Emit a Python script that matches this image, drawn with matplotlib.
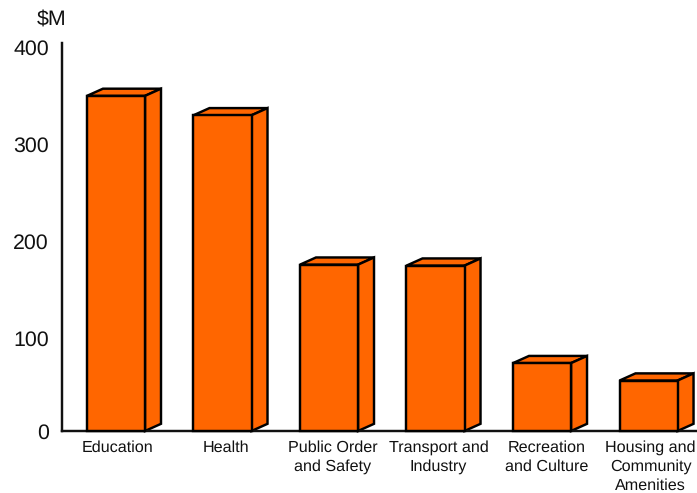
import matplotlib
matplotlib.use('Agg')
import matplotlib.pyplot as plt
from matplotlib.patches import Polygon
from matplotlib.transforms import ScaledTranslation

plt.rcParams['font.family'] = ['Liberation Sans', 'DejaVu Sans']
plt.rcParams['text.hinting'] = 'none'

categories = ['Education', 'Health', 'Public Order\nand Safety', 'Transport and\nIndustry',
              'Recreation\nand Culture', 'Housing and\nCommunity\nAmenities']
values = [345.5, 325.5, 171.5, 170.5, 70, 52]
y_ticks = [0, 100, 200, 300, 400]

orange = '#ff6600'
edge = '#000000'
bar_width = 0.545
depth_x = 0.15
depth_y = 7.4
line = 1.75
text_col = '#111111'

# sideways nudge of each category label, in pixels
label_nudge = [2, 3, 4, 3, 5, 2]

fig = plt.figure(figsize=(6.97, 4.93), dpi=100)
ax = fig.add_axes([62 / 697, 1 - 431 / 493, (697 - 62) / 697, (431 - 43) / 493])
ax.set_xlim(-0.507, 5.455)
ax.set_ylim(0, 400)

# front faces
ax.bar(range(len(values)), values, width=bar_width, color=orange, edgecolor=edge,
       linewidth=line, zorder=3, clip_on=False)

# top and side faces of each box
for i, v in enumerate(values):
    l = i - bar_width / 2
    r = i + bar_width / 2
    top = [(l, v), (r, v), (r + depth_x, v + depth_y), (l + depth_x, v + depth_y)]
    side = [(r, 0), (r + depth_x, depth_y), (r + depth_x, v + depth_y), (r, v)]
    for pts in (top, side):
        ax.add_patch(Polygon(pts, closed=True, facecolor=orange, edgecolor=edge,
                             linewidth=line, joinstyle='miter', zorder=2, clip_on=False))

for s in ('top', 'right'):
    ax.spines[s].set_visible(False)
for s in ('left', 'bottom'):
    ax.spines[s].set_linewidth(line)
    ax.spines[s].set_color('#111111')

ax.set_yticks([])
ax.set_xticks(range(len(categories)))
ax.set_xticklabels(categories, fontsize=11.6, linespacing=1.35, color=text_col)
ax.tick_params(axis='x', length=0, pad=6.5)
for lab, dx in zip(ax.get_xticklabels(), label_nudge):
    lab.set_transform(lab.get_transform() + ScaledTranslation(dx / 100, 0, fig.dpi_scale_trans))

# value labels sit a little below their gridline position
for t in y_ticks:
    off = -2 if t == 0 else -6.5
    ax.annotate(str(t), xy=(0, t), xycoords=('axes fraction', 'data'),
                xytext=(-9.3, off * 0.72), textcoords='offset points',
                ha='right', va='center', fontsize=15.4, color=text_col)

fig.text(52 / 697, 1 - 20 / 493, '$M', ha='center', va='center', fontsize=15.4,
         color=text_col, parse_math=False)

fig.savefig('out.png', dpi=100)
